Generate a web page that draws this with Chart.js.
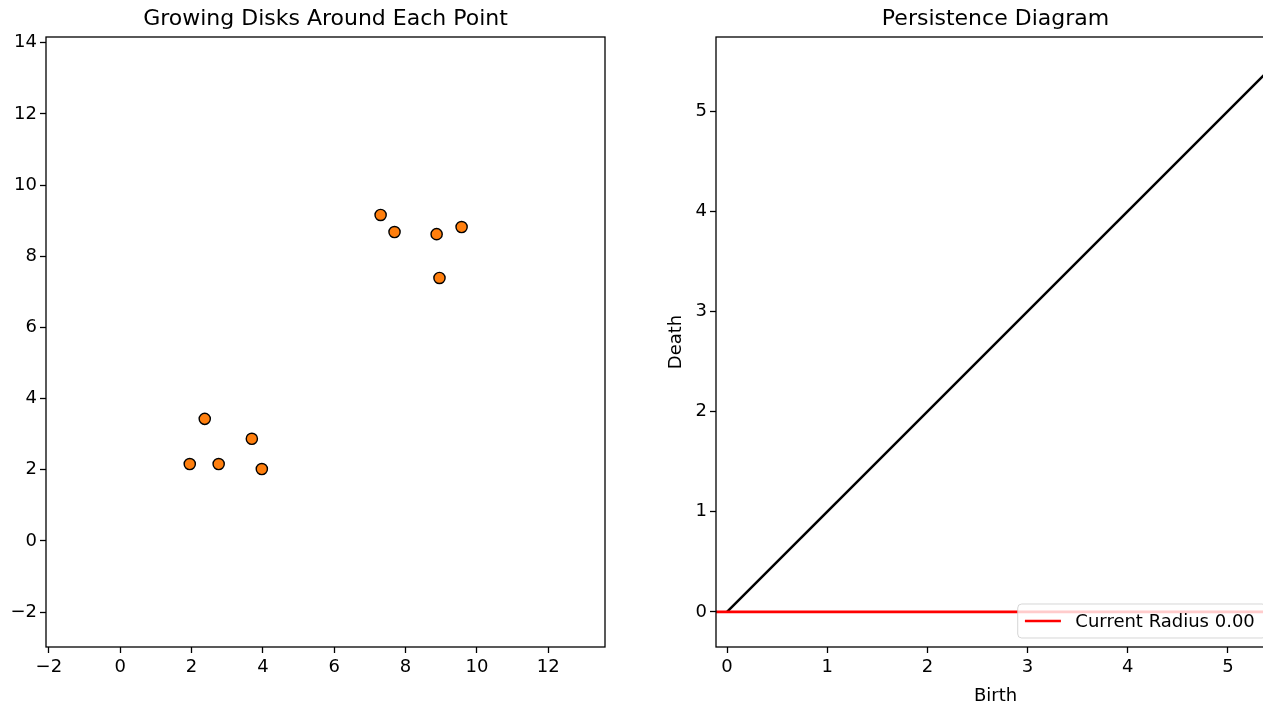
<!DOCTYPE html>
<html><head><meta charset="utf-8">
<script src="https://cdn.jsdelivr.net/npm/chart.js@4.4.1/dist/chart.umd.min.js"></script>
<style>
html,body{margin:0;padding:0;background:#fff;width:1263px;height:707px;overflow:hidden;position:relative}
canvas{position:absolute;top:0}
</style></head>
<body>
<canvas id="left" width="651" height="707" style="left:0px"></canvas>
<canvas id="right" width="640" height="707" style="left:660px"></canvas>
<script>
// ---- data ----
const pointX = [7.30, 7.69, 8.87, 9.57, 8.95, 2.37, 3.69, 1.95, 2.76, 3.97];
const pointY = [9.16, 8.68, 8.62, 8.82, 7.39, 3.43, 2.87, 2.16, 2.16, 2.02];
const leftXTicks = [-2, 0, 2, 4, 6, 8, 10, 12];
const leftYTicks = [-2, 0, 2, 4, 6, 8, 10, 12, 14];
const leftXRange = [-2.08, 13.59];
const leftYRange = [-2.98, 14.16];

const diagBirth = [0, 5.74];
const diagDeath = [0, 5.74];
const currentRadius = 0.00;
const rightXTicks = [0, 1, 2, 3, 4, 5];
const rightYTicks = [0, 1, 2, 3, 4, 5];
const rightXRange = [-0.11, 5.47];
const rightYRange = [-0.35, 5.74];

const leftTitle = 'Growing Disks Around Each Point';
const rightTitle = 'Persistence Diagram';
const xLabelRight = 'Birth';
const yLabelRight = 'Death';
const legendLabel = 'Current Radius ' + currentRadius.toFixed(2);

// ---- styling ----
Chart.defaults.font.family = "'DejaVu Sans', sans-serif";
Chart.defaults.color = '#000';
const FS = 18;

function fmt(v) { return String(v).replace('-', '\u2212'); }

function makeAxis(range, ticks, isX, size, title) {
  return {
    type: 'linear',
    position: isX ? 'bottom' : 'left',
    min: range[0], max: range[1],
    afterBuildTicks: s => { s.ticks = ticks.map(v => ({ value: v })); },
    afterFit: s => { if (isX) s.height = size; else s.width = size; },
    border: { display: false },
    grid: { display: true, drawOnChartArea: false, drawTicks: true, tickLength: 6, tickWidth: 1.3, tickColor: '#000', color: '#000' },
    ticks: { font: { size: FS }, color: '#000', padding: isX ? 4 : 3, maxRotation: 0, autoSkip: false, callback: v => fmt(v) },
    title: title ? { display: true, text: title, font: { size: FS }, color: '#000', padding: isX ? { top: 0, bottom: 0 } : { top: 6, bottom: 0 } } : { display: false }
  };
}

const framePlugin = {
  id: 'frame',
  afterDraw(chart) {
    const a = chart.chartArea, c = chart.ctx;
    c.save();
    c.strokeStyle = '#000'; c.lineWidth = 1.3;
    c.strokeRect(a.left, a.top, a.right - a.left, a.bottom - a.top);
    c.restore();
  }
};

const legendPlugin = {
  id: 'lowerRightLegend',
  afterDraw(chart) {
    const ds = chart.data.datasets.find(d => d.legendItem);
    if (!ds) return;
    const a = chart.chartArea, c = chart.ctx;
    c.save();
    c.font = FS + "px 'DejaVu Sans'";
    const tw = c.measureText(ds.label).width;
    const pad = 0.4 * FS, handle = 2 * FS, gap = 0.8 * FS;
    const w = pad + handle + gap + tw + pad + 4;
    const h = 34;
    const right = a.right - 0.5 * FS, bottom = a.bottom - 0.5 * FS;
    const left = right - w, top = bottom - h;
    c.beginPath();
    c.roundRect(left, top, w, h, 4);
    c.fillStyle = 'rgba(255,255,255,0.8)';
    c.fill();
    c.strokeStyle = 'rgba(204,204,204,0.8)';
    c.lineWidth = 1;
    c.stroke();
    const cy = top + h / 2;
    c.beginPath();
    c.moveTo(left + pad, cy);
    c.lineTo(left + pad + handle, cy);
    c.strokeStyle = ds.borderColor; c.lineWidth = ds.borderWidth;
    c.stroke();
    c.fillStyle = '#000';
    c.textBaseline = 'middle'; c.textAlign = 'left';
    c.fillText(ds.label, left + pad + handle + gap, cy + 1);
    c.restore();
  }
};

const titleOpts = text => ({
  display: true, text, fullSize: false, color: '#000',
  font: { size: 22, weight: 'normal' },
  padding: { top: 6, bottom: 4.6 }
});

new Chart(document.getElementById('left'), {
  type: 'scatter',
  data: {
    datasets: [{
      label: 'points',
      data: pointX.map((x, i) => ({ x, y: pointY[i] })),
      backgroundColor: '#ff7f0e',
      borderColor: '#000',
      borderWidth: 1.4,
      pointRadius: 5.6,
      pointHoverRadius: 5.6
    }]
  },
  options: {
    responsive: false, animation: false, devicePixelRatio: 1,
    layout: { padding: { left: 0, right: 46, top: 0, bottom: 0 } },
    plugins: { legend: { display: false }, tooltip: { enabled: false }, title: titleOpts(leftTitle) },
    scales: {
      x: makeAxis(leftXRange, leftXTicks, true, 60),
      y: makeAxis(leftYRange, leftYTicks, false, 46)
    }
  },
  plugins: [framePlugin]
});

new Chart(document.getElementById('right'), {
  type: 'scatter',
  data: {
    datasets: [
      {
        label: legendLabel,
        legendItem: true,
        data: [{ x: rightXRange[0], y: currentRadius }, { x: rightXRange[1], y: currentRadius }],
        showLine: true, borderColor: '#ff0000', borderWidth: 2.7, pointRadius: 0, order: 0
      },
      {
        label: 'diagonal',
        data: diagBirth.map((x, i) => ({ x, y: diagDeath[i] })),
        showLine: true, borderColor: '#000', borderWidth: 2.5, pointRadius: 0, order: 1
      }
    ]
  },
  options: {
    responsive: false, animation: false, devicePixelRatio: 1,
    layout: { padding: { left: 0, right: 25, top: 0, bottom: 0 } },
    plugins: { legend: { display: false }, tooltip: { enabled: false }, title: titleOpts(rightTitle) },
    scales: {
      x: makeAxis(rightXRange, rightXTicks, true, 60, xLabelRight),
      y: makeAxis(rightYRange, rightYTicks, false, 56, yLabelRight)
    }
  },
  plugins: [framePlugin, legendPlugin]
});
</script>
</body></html>
